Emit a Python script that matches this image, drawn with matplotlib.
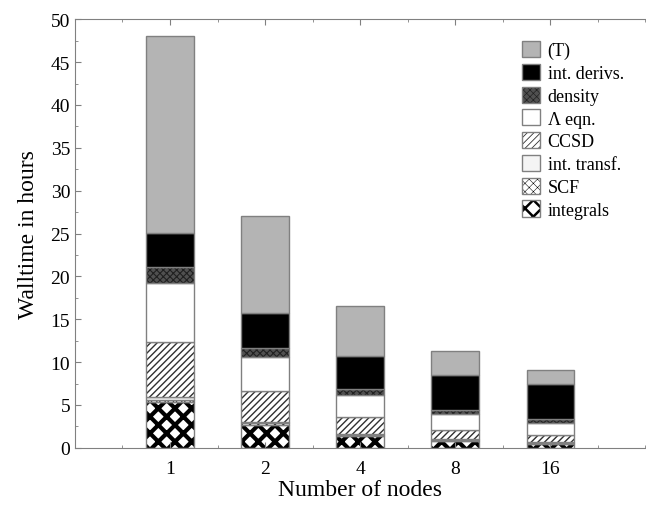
import numpy as np
import matplotlib
matplotlib.use("Agg")
import matplotlib.pyplot as plt
from matplotlib.ticker import MultipleLocator

plt.rcParams['font.family'] = ['Liberation Serif', 'DejaVu Serif']

# node counts and stacked walltime components (hours), bottom to top
nodes = ["1", "2", "4", "8", "16"]
integrals = [5.4, 2.7, 1.35, 0.8, 0.5]
scf = [0.2, 0.15, 0.1, 0.08, 0.05]
int_transf = [0.3, 0.2, 0.12, 0.1, 0.08]
ccsd = [6.4, 3.55, 2.0, 1.1, 0.9]
lambda_eqn = [6.9, 3.95, 2.65, 1.85, 1.4]
density = [1.85, 1.05, 0.6, 0.5, 0.4]
int_derivs = [4.05, 4.1, 3.95, 4.05, 4.15]
triples = [22.9, 11.4, 5.75, 2.85, 1.55]

series = [
    ("integrals", integrals, "white", "xx", "black", 3.0),
    ("SCF", scf, "white", "xxxx", "black", 0.6),
    ("int. transf.", int_transf, "#f4f4f4", None, "#808080", 1.0),
    ("CCSD", ccsd, "white", "/////", "#303030", 1.0),
    ("\u039b eqn.", lambda_eqn, "white", None, "#808080", 1.0),
    ("density", density, "#505050", "xxxxx", "#202020", 0.8),
    ("int. derivs.", int_derivs, "black", None, "#808080", 1.0),
    ("(T)", triples, "#b4b4b4", None, "#808080", 1.0),
]

fig = plt.figure(figsize=(6.46, 5.06), dpi=100)
ax = fig.add_axes([0.116, 0.113, 0.883, 0.847])

x = np.arange(1, len(nodes) + 1)
bottom = np.zeros(len(nodes))
handles = []
for label, vals, fc, hatch, hc, hlw in series:
    plt.rcParams['hatch.linewidth'] = hlw
    plt.rcParams['hatch.color'] = hc
    bars = ax.bar(x, vals, 0.5, bottom=bottom, color=fc, hatch=hatch,
                  edgecolor="#808080", linewidth=1.0, label=label)
    for b in bars:
        if hatch:
            b._hatch_color = matplotlib.colors.to_rgba(hc)
            b._hatch_linewidth = hlw
    handles.append(bars)
    bottom += np.array(vals)

ax.set_xlim(0, 6)
ax.set_ylim(0, 50)
ax.set_xticks(x)
ax.set_xticklabels(nodes)
ax.xaxis.set_minor_locator(MultipleLocator(0.5))
ax.yaxis.set_major_locator(MultipleLocator(5))
ax.yaxis.set_minor_locator(MultipleLocator(2.5))
ax.tick_params(which="both", direction="in", top=True, right=False,
               color="#808080", labelsize=14)
ax.tick_params(which="major", length=4)
ax.tick_params(which="minor", length=2)
ax.tick_params(axis="x", pad=9)
for s in ax.spines.values():
    s.set_color("#808080")
ax.spines["right"].set_visible(False)

ax.set_xlabel("Number of nodes", fontsize=17, labelpad=1)
ax.set_ylabel("Walltime in hours", fontsize=17, labelpad=8)

leg = ax.legend(handles[::-1], [s[0] for s in series][::-1], loc="upper right",
                frameon=False, fontsize=13, handlelength=1.0, handleheight=1.0,
                handletextpad=0.4, labelspacing=0.25, borderaxespad=0.8)
for h, s in zip(leg.legend_handles, series[::-1]):
    if s[3]:
        h._hatch_color = matplotlib.colors.to_rgba(s[4])
        h._hatch_linewidth = s[5] * 0.6

fig.savefig("out.png", dpi=100)
